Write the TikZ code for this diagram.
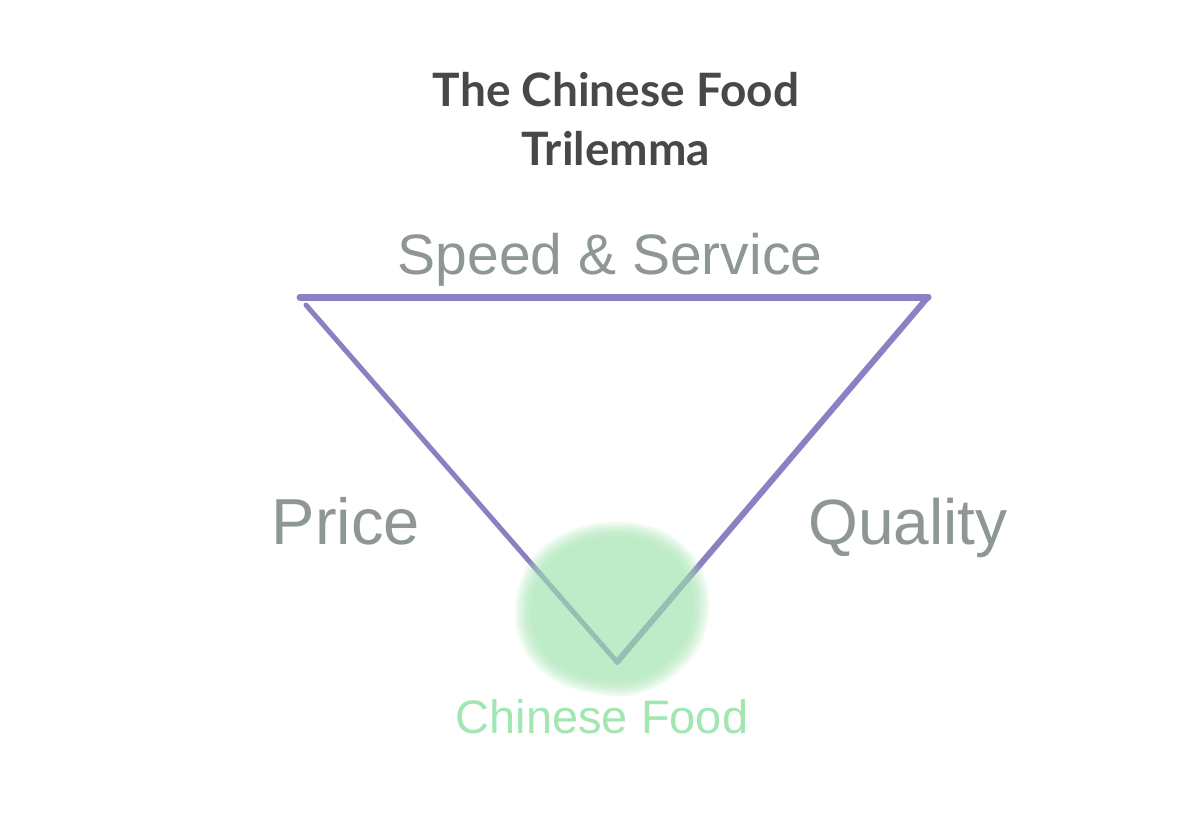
\documentclass[tikz,border=0pt]{standalone}
\usepackage{fontspec}
\setmainfont{Liberation Sans}
\newfontfamily\titlefont{Lato}
\newfontfamily\handfont{Liberation Sans}
\definecolor{linepurple}{HTML}{8A80C2}
\definecolor{titlegray}{HTML}{484848}
\definecolor{handgray}{HTML}{8E9696}
\definecolor{blobgreen}{HTML}{9FE4AE}
\definecolor{labelgreen}{HTML}{A2E6B2}
\tikzset{
  side/.style={draw=linepurple, line cap=round, line join=round},
  handlabel/.style={font=\handfont, text=handgray, inner sep=0pt, anchor=base},
  titletext/.style={font=\titlefont\bfseries\fontsize{46}{58}\selectfont, text=titlegray, align=center, inner sep=0pt},
  bloblayer/.style={fill=blobgreen, fill opacity=0.16},
}
\newcommand{\blobpath}{plot[smooth cycle, tension=0.7] coordinates {
   (612,522) (640,524) (668,534) (690,552) (704,575) (709,602) (706,628)
   (696,652) (678,672) (654,688) (626,696) (598,694) (572,688) (548,676)
   (528,656) (517,630) (516,602) (522,578) (534,556) (556,538) (584,526)}}
\begin{document}
\begin{tikzpicture}[x=1pt,y=-1pt]
\useasboundingbox[fill=white] (0,0) rectangle (1200,838);
% title
\node[titletext, anchor=base] (title1) at (616,106) {The Chinese Food};
\node[titletext, anchor=base] (title2) at (616,165) {Trilemma};
% triangle corners
\coordinate (tl) at (300,297);
\coordinate (tr) at (928,297);
\coordinate (tl2) at (306,305);
\coordinate (bot) at (617,662);
\draw[side, line width=7pt] (tl) -- (tr);
\draw[side, line width=5pt] (tl2) -- (bot);
\draw[side, line width=6pt] (tr) -- (bot);
% green blob (soft watercolour layers)
\coordinate (bc) at (612,609);
\foreach \s in {1.0,0.97,0.94,0.91,0.88,0.84} {
  \fill[bloblayer, shift={(612,609)}, scale=\s, shift={(-612,-609)}] \blobpath;
}
% labels
\node[handlabel, font=\handfont\fontsize{57}{60}\selectfont] (speed) at (610,274) {Speed \& Service};
\node[handlabel, font=\handfont\fontsize{65}{68}\selectfont] (price) at (346,544) {Price};
\node[handlabel, font=\handfont\fontsize{64}{68}\selectfont] (quality) at (908,544) {Quality};
\node[handlabel, text=labelgreen, font=\handfont\fontsize{47}{50}\selectfont] (food) at (602,733) {Chinese Food};
\end{tikzpicture}
\end{document}
